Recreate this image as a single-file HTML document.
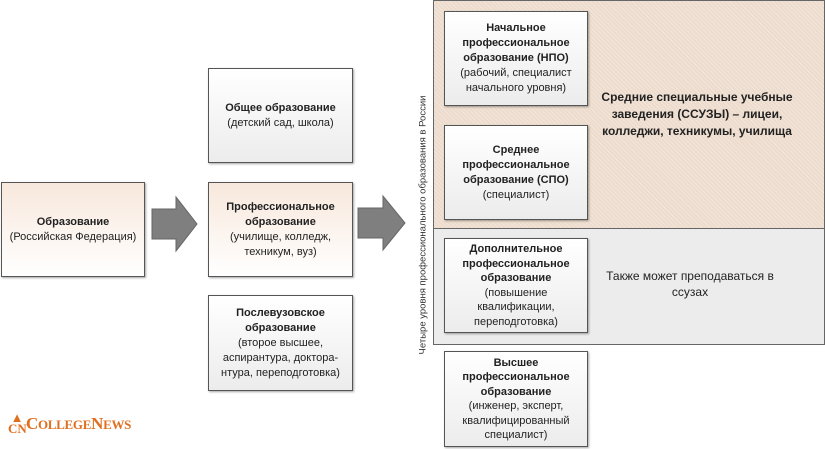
<!DOCTYPE html>
<html><head><meta charset="utf-8"><style>
body{margin:0;width:825px;height:449px;background:#fff;position:relative;overflow:hidden;font-family:"Liberation Sans","DejaVu Sans",sans-serif;font-size:11px;color:#222}
.b{position:absolute;box-sizing:border-box;border:1px solid #555;display:flex;flex-direction:column;justify-content:center;align-items:center;text-align:center;line-height:15px;box-shadow:1px 1px 2px rgba(0,0,0,.35)}
.g{background:linear-gradient(#fff,#ececec)}
.p{background:linear-gradient(#f8e8dc,#fff)}
b{font-weight:bold}
.t{position:absolute;text-align:center;line-height:16px}
</style></head><body>
<div style="position:absolute;left:433px;top:0;width:392px;height:229px;box-sizing:border-box;border:1px solid #666;background:#eddccd repeating-linear-gradient(45deg,rgba(255,255,255,.25) 0 1px,transparent 1px 3px)"></div>
<div style="position:absolute;left:433px;top:228px;width:392px;height:117px;box-sizing:border-box;border:1px solid #666;background:#ececec"></div>

<div class="b p" style="left:1px;top:182px;width:144px;height:95px"><b>Образование</b>(Российская Федерация)</div>
<svg style="position:absolute;left:150px;top:195px" width="50" height="58"><polygon points="2,14 26,14 26,2 47,29 26,56 26,44 2,44" fill="#7f7f7f" stroke="#666"/></svg>
<div class="b g" style="left:208px;top:68px;width:145px;height:95px"><b>Общее образование</b>(детский сад, школа)</div>
<div class="b p" style="left:208px;top:182px;width:145px;height:95px"><b>Профессиональное<br>образование</b>(училище, колледж,<br>техникум, вуз)</div>
<div class="b g" style="left:208px;top:295px;width:145px;height:96px"><b>Послевузовское<br>образование</b>(второе высшее,<br>аспирантура, доктора-<br>нтура, переподготовка)</div>
<svg style="position:absolute;left:356px;top:194px" width="52" height="58"><polygon points="2,14 27,14 27,2 49,29 27,56 27,44 2,44" fill="#7f7f7f" stroke="#666"/></svg>
<div style="position:absolute;left:423px;top:225px;transform:translate(-50%,-50%) rotate(-90deg);white-space:nowrap;font-size:9.5px;color:#333">Четыре уровня профессионального образования в России</div>

<div class="b g" style="left:444px;top:11px;width:144px;height:95px"><b>Начальное<br>профессиональное<br>образование (НПО)</b>(рабочий, специалист<br>начального уровня)</div>
<div class="b g" style="left:444px;top:125px;width:144px;height:95px"><b>Среднее<br>профессиональное<br>образование (СПО)</b>(специалист)</div>
<div class="b g" style="left:444px;top:238px;width:144px;height:95px;line-height:14.5px"><b>Дополнительное<br>профессиональное<br>образование</b>(повышение<br>квалификации,<br>переподготовка)</div>
<div class="b g" style="left:444px;top:351px;width:144px;height:96px;line-height:14.5px"><b>Высшее<br>профессиональное<br>образование</b>(инженер, эксперт,<br>квалифицированный<br>специалист)</div>

<div class="t" style="left:592px;top:89px;width:210px;font-weight:bold;font-size:12px;line-height:17px">Средние специальные учебные заведения (ССУЗЫ) – лицеи, колледжи, техникумы, училища</div>
<div class="t" style="left:600px;top:268px;width:180px;font-size:12px">Также может преподаваться в ссузах</div>

<div style="position:absolute;left:8px;top:412px;color:#e07020;font-family:'Liberation Serif',serif;font-weight:bold;white-space:nowrap">
<span style="font-size:13px;display:inline-block;width:18px;line-height:11px;vertical-align:bottom;text-align:center">▲<br>CN</span><span style="font-size:17px;letter-spacing:-.3px">C<span style="font-size:13px">OLLEGE</span>N<span style="font-size:13px">EWS</span></span></div>
</body></html>
